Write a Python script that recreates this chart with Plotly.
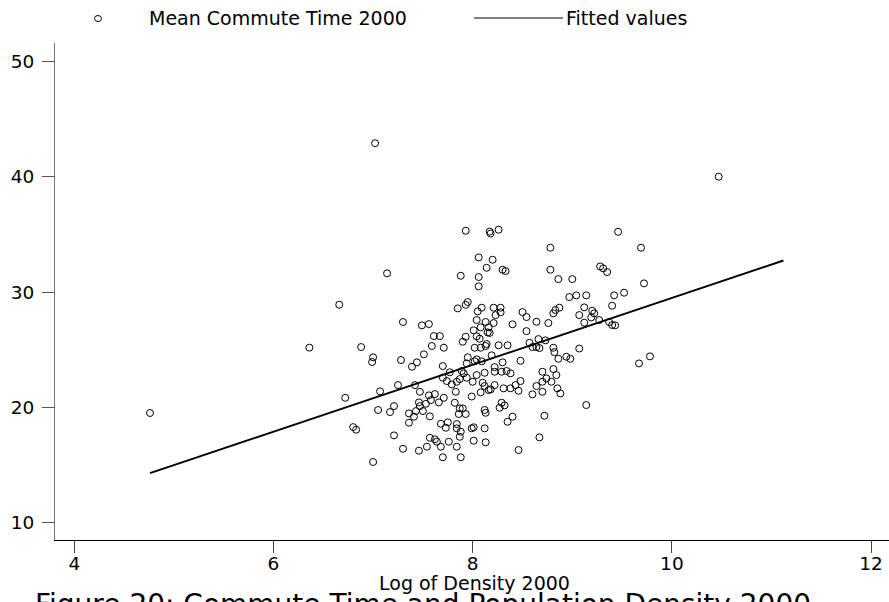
import plotly.graph_objects as go

# Log of density 2000 (x) and mean commute time 2000 (y)
log_density = [
    7.14, 6.66, 7.30, 7.49, 7.56, 6.36, 6.88, 7.59,
    7.93, 8.17, 8.18, 8.26, 8.78, 8.06, 8.20, 8.14, 8.30, 8.33, 7.88, 8.06,
    8.78, 8.86, 9.00, 8.06, 8.97, 9.04, 7.85, 7.93, 7.95, 8.09, 8.05, 8.21,
    8.28, 8.28, 8.23, 8.50, 8.54, 8.87, 8.83, 8.81, 9.07, 8.04, 8.13, 8.21,
    8.40, 8.64, 8.76, 8.08, 8.01, 8.16, 8.15, 8.17, 8.54, 7.61, 7.67, 7.93,
    8.04, 8.07, 8.57, 8.66, 8.73, 7.90, 8.14, 8.13, 8.26, 8.35, 7.71, 8.02,
    8.08, 8.60, 8.64, 8.67, 8.81, 9.07,
    9.46, 9.69, 9.28, 9.31, 9.35, 9.72, 9.14, 9.42, 9.52, 9.12, 9.40, 9.20,
    9.22, 9.19, 9.27, 9.12, 9.37, 9.40, 9.43,
    7.00, 6.99, 7.28, 7.44, 7.39, 7.51, 7.25, 7.42, 7.47, 7.07, 6.72, 7.56,
    7.46, 7.47, 7.53, 7.21, 7.05, 7.17, 7.36, 7.43, 7.50, 7.41, 7.36, 7.57,
    6.80, 6.83, 7.21, 7.57, 7.30, 7.46, 7.54, 7.00,
    8.82, 8.86, 8.94, 8.98, 7.95, 8.04, 8.02, 7.94, 8.09, 8.19, 8.30, 8.48,
    7.70, 7.89, 7.91, 8.04, 8.12, 8.22, 8.22, 8.29, 8.34, 8.38, 7.77, 7.70,
    7.74, 7.79, 7.84, 7.87, 7.94, 8.00, 8.10, 8.12, 8.22, 8.31, 8.38, 8.43,
    8.46, 8.48, 8.70, 8.81, 8.84, 8.74, 8.70, 8.79, 8.64, 8.60, 8.70, 8.85,
    8.88, 7.62, 7.58, 7.66, 7.71, 7.83, 7.99, 8.08, 8.16, 8.18, 7.82, 7.87,
    7.90, 7.86, 7.93, 8.12, 8.13, 8.29, 8.32, 8.27, 8.40, 8.35, 8.72, 7.68,
    7.75, 7.73, 7.84, 7.84, 7.88, 7.99, 8.01, 8.12, 7.62, 7.64, 7.68, 7.76,
    7.87, 8.01, 8.13, 7.84, 7.70, 7.88, 8.46, 8.67,
    9.67, 9.78, 9.14,
    4.76, 7.02, 10.47,
]
commute_time = [
    31.62, 28.90, 27.40, 27.11, 27.22, 25.18, 25.23, 25.32,
    35.31, 35.24, 35.07, 35.40, 33.84, 33.00, 32.80, 32.10, 31.93, 31.82, 31.41, 31.30,
    31.93, 31.12, 31.12, 30.49, 29.56, 29.71, 28.58, 28.89, 29.13, 28.64, 28.32, 28.64,
    28.64, 28.24, 28.00, 28.26, 27.83, 28.64, 28.44, 28.15, 28.00, 27.57, 27.40, 27.31,
    27.20, 27.42, 27.31, 26.94, 26.68, 26.94, 26.50, 26.45, 26.61, 26.18, 26.18, 26.12,
    26.16, 25.95, 25.60, 25.92, 25.81, 25.69, 25.49, 25.32, 25.38, 25.38, 25.17, 25.17,
    25.17, 25.23, 25.23, 25.14, 25.17, 25.10,
    35.22, 33.84, 32.22, 32.05, 31.73, 30.75, 29.71, 29.71, 29.94, 28.67, 28.81, 28.38,
    28.15, 27.80, 27.57, 27.34, 27.40, 27.14, 27.11,
    24.34, 23.93, 24.10, 23.90, 23.52, 24.60, 21.93, 21.93, 21.35, 21.39, 20.83, 21.04,
    20.43, 20.11, 20.31, 20.11, 19.77, 19.59, 19.48, 19.68, 19.68, 19.19, 18.67, 19.22,
    18.29, 18.06, 17.57, 17.36, 16.41, 16.24, 16.59, 15.26,
    24.79, 24.21, 24.39, 24.21, 24.34, 24.16, 23.99, 23.81, 23.99, 24.51, 23.90, 24.04,
    23.58, 23.15, 22.95, 22.80, 23.00, 23.49, 23.09, 23.09, 23.15, 22.95, 23.04, 22.57,
    22.28, 21.99, 22.22, 22.45, 22.57, 22.22, 22.13, 21.85, 21.93, 21.65, 21.65, 21.93,
    21.44, 22.28, 23.09, 23.32, 22.80, 22.51, 22.22, 22.22, 21.85, 21.13, 21.35, 21.65,
    21.21, 21.15, 20.63, 20.43, 20.83, 21.35, 20.94, 21.30, 21.50, 21.56, 20.40, 19.91,
    19.91, 19.42, 19.42, 19.77, 19.53, 20.40, 20.17, 19.97, 19.19, 18.75, 19.27, 18.58,
    18.70, 18.23, 18.55, 18.18, 17.89, 18.18, 18.27, 18.18, 17.23, 17.02, 16.59, 17.02,
    17.45, 17.11, 16.97, 16.59, 15.67, 15.67, 16.30, 17.40,
    23.81, 24.42, 20.20,
    19.51, 42.90, 40.00,
]

# Fitted values (endpoints of the fitted line)
fit_x = [4.76, 11.12]
fit_y = [14.30, 32.73]

x_ticks = [4, 6, 8, 10, 12]
y_ticks = [10, 20, 30, 40, 50]

FONT = "DejaVu Sans, Liberation Sans, Arial, sans-serif"
FS = 18.5
W, H = 889, 602
L, R, T, B = 55, 0, 43, 62
PW, PH = W - L - R, H - T - B

def px(xp):
    return (xp - L) / PW

def py(yp):
    return (H - B - yp) / PH

fig = go.Figure()
fig.add_trace(go.Scatter(
    x=log_density, y=commute_time, mode="markers",
    marker=dict(symbol="circle-open", size=7, color="black",
                line=dict(width=1, color="black")),
    name="Mean Commute Time 2000", showlegend=False, hoverinfo="x+y",
))
fig.add_trace(go.Scatter(
    x=fit_x, y=fit_y, mode="lines",
    line=dict(color="black", width=2),
    name="Fitted values", showlegend=False,
))

shapes = [
    # legend circle
    dict(type="circle", xref="paper", yref="paper",
         x0=px(94.5), x1=px(101.5), y0=py(21.5), y1=py(15.5),
         line=dict(color="black", width=1)),
    # legend line
    dict(type="line", xref="paper", yref="paper",
         x0=px(474), x1=px(563), y0=py(18), y1=py(18),
         line=dict(color="black", width=1)),
]
annotations = [
    dict(text="Mean Commute Time 2000", xref="paper", yref="paper",
         x=px(147), y=py(18), xanchor="left", yanchor="middle",
         showarrow=False, font=dict(family=FONT, size=19, color="black")),
    dict(text="Fitted values", xref="paper", yref="paper",
         x=px(564), y=py(18), xanchor="left", yanchor="middle",
         showarrow=False, font=dict(family=FONT, size=19, color="black")),
    dict(text="Log of Density 2000", xref="paper", yref="paper",
         x=px(474), y=py(570), xanchor="center", yanchor="top",
         showarrow=False, font=dict(family=FONT, size=19, color="black")),
    dict(text="Figure 20: Commute Time and Population Density 2000",
         xref="paper", yref="paper", x=px(423), y=py(586),
         xanchor="center", yanchor="top", showarrow=False,
         font=dict(family=FONT, size=28, color="black")),
]

fig.update_layout(
    width=W, height=H,
    margin=dict(l=L, r=R, t=T, b=B, pad=0),
    paper_bgcolor="white", plot_bgcolor="white",
    font=dict(family=FONT, size=FS, color="black"),
    shapes=shapes, annotations=annotations,
    showlegend=False,
)
fig.update_xaxes(
    range=[3.806, 12.18], tickvals=x_ticks, ticktext=[str(v) for v in x_ticks],
    showgrid=False, zeroline=False, showline=True, linecolor="black", linewidth=1,
    ticks="outside", ticklen=12, tickwidth=1, tickcolor="#444444",
    ticklabelstandoff=-5,
    tickfont=dict(family=FONT, size=FS, color="black"),
)
fig.update_yaxes(
    range=[8.5, 51.59], tickvals=y_ticks, ticktext=[str(v) for v in y_ticks],
    showgrid=False, zeroline=False, showline=True, linecolor="#777777", linewidth=1,
    ticks="outside", ticklen=12, tickwidth=1, tickcolor="#555555",
    ticklabelstandoff=4,
    tickfont=dict(family=FONT, size=FS, color="black"),
)

fig.write_html(
    "out.html",
    config={"displayModeBar": False, "staticPlot": True},
    post_script="document.body.style.margin='0px';document.body.style.padding='0px';"
                "document.body.style.overflow='hidden';",
)
